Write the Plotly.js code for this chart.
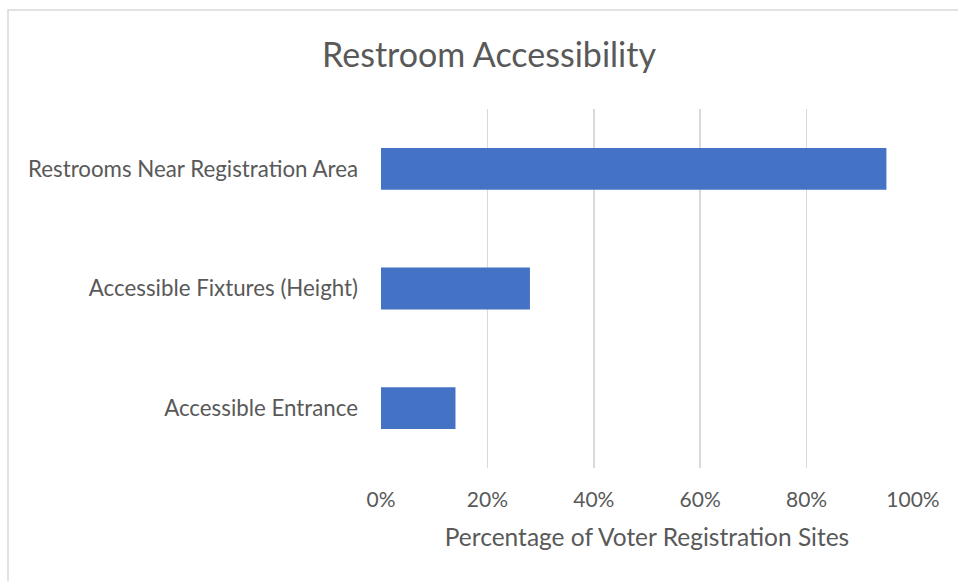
<!DOCTYPE html>
<html>
<head>
<meta charset="utf-8">
<script src="https://cdn.plot.ly/plotly-3.0.1.min.js"></script>
<style>html,body{margin:0;padding:0;background:#fff;}#chart{width:958px;height:581px;}</style>
</head>
<body>
<div id="chart"></div>
<script>
const categories = ["Restrooms Near Registration Area", "Accessible Fixtures (Height)", "Accessible Entrance"];
const values = [95, 28, 14];
const tickValues = [0, 20, 40, 60, 80, 100];
const tickLabels = ["0%", "20%", "40%", "60%", "80%", "100%"];

const fontFamily = "Lato, 'Open Sans', sans-serif";
const textColor = "#595959";

const trace = {
  type: "bar",
  orientation: "h",
  x: values,
  y: categories,
  width: 0.35,
  marker: {color: "#4472C4"},
  hoverinfo: "x+y"
};

const layout = {
  width: 958,
  height: 581,
  margin: {l: 381, r: 45, t: 109, b: 113},
  paper_bgcolor: "#ffffff",
  plot_bgcolor: "#ffffff",
  showlegend: false,
  font: {family: fontFamily, color: textColor, size: 21},
  title: {
    text: "Restroom Accessibility",
    font: {family: fontFamily, size: 34, color: textColor},
    x: 489/958, xref: "container", xanchor: "center",
    y: 1 - 55/581, yref: "container", yanchor: "middle"
  },
  xaxis: {
    range: [0, 100],
    tickvals: tickValues,
    ticktext: tickLabels,
    showgrid: true,
    gridcolor: "#d9d9d9",
    gridwidth: 1.5,
    zeroline: false,
    showline: false,
    ticks: "",
    ticklabelstandoff: 17,
    tickfont: {family: fontFamily, size: 21, color: textColor},
    title: {text: "Percentage of Voter Registration Sites", font: {family: fontFamily, size: 24.5, color: textColor}, standoff: 18},
    fixedrange: true
  },
  yaxis: {
    type: "category",
    autorange: "reversed",
    showgrid: false,
    zeroline: false,
    showline: false,
    ticks: "",
    ticklabelstandoff: 22,
    tickfont: {family: fontFamily, size: 22.3, color: textColor},
    fixedrange: true
  },
  shapes: [{
    type: "rect",
    xref: "paper", yref: "paper",
    x0: (8 - 381) / 532, x1: (975 - 381) / 532,
    y0: (468 - 600) / 359, y1: (468 - 10) / 359,
    line: {color: "#d9d9d9", width: 1.5},
    fillcolor: "rgba(0,0,0,0)",
    layer: "below"
  }]
};

Plotly.newPlot("chart", [trace], layout, {displayModeBar: false, staticPlot: true});
</script>
</body>
</html>
